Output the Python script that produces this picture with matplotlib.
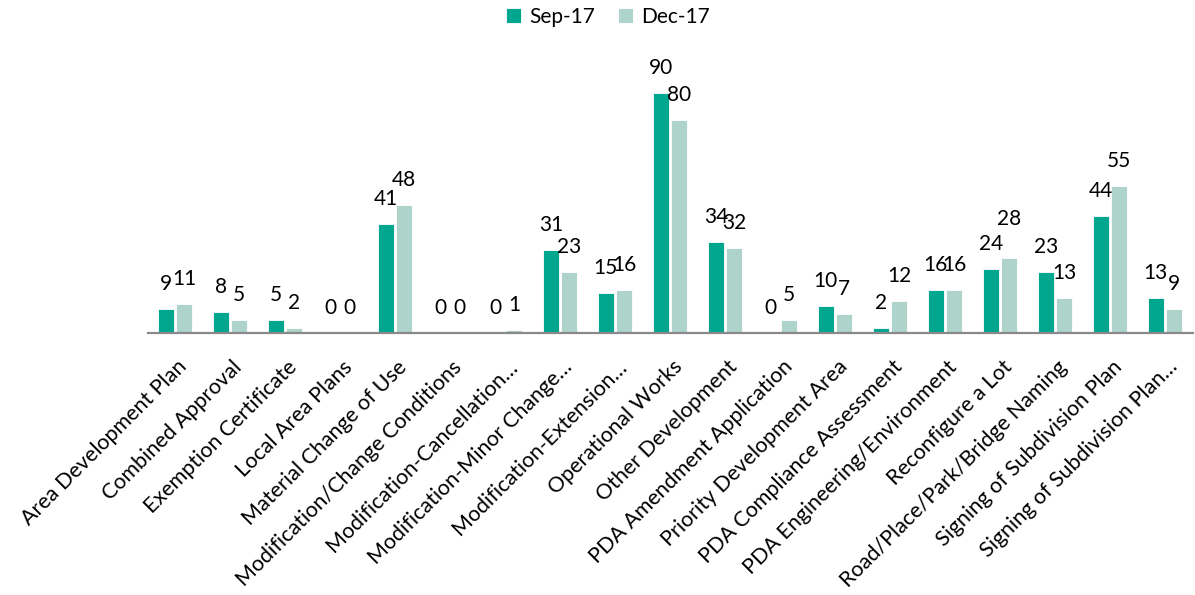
import matplotlib
matplotlib.use("Agg")
import matplotlib.pyplot as plt
import matplotlib.transforms as mtransforms
import numpy as np

categories = [
    "Area Development Plan",
    "Combined Approval",
    "Exemption Certificate",
    "Local Area Plans",
    "Material Change of Use",
    "Modification/Change Conditions",
    "Modification-Cancellation…",
    "Modification-Minor Change…",
    "Modification-Extension…",
    "Operational Works",
    "Other Development",
    "PDA Amendment Application",
    "Priority Development Area",
    "PDA Compliance Assessment",
    "PDA Engineering/Environment",
    "Reconfigure a Lot",
    "Road/Place/Park/Bridge Naming",
    "Signing of Subdivision Plan",
    "Signing of Subdivision Plan…",
]

series_names = ["Sep-17", "Dec-17"]
sep17 = [9, 8, 5, 0, 41, 0, 0, 31, 15, 90, 34, 0, 10, 2, 16, 24, 23, 44, 13]
dec17 = [11, 5, 2, 0, 48, 0, 1, 23, 16, 80, 32, 5, 7, 12, 16, 28, 13, 55, 9]

colors = ["#00A78E", "#AED3CA"]

# extra lift (points) for labels that sit higher than the rest
label_lift = {(1, 15): 10}

plt.rcParams["font.family"] = ["Lato", "DejaVu Sans"]

fig = plt.figure(figsize=(11.95, 5.95), dpi=100)
ax = fig.add_axes([147.5 / 1195, 1 - 333 / 595, 1045 / 1195, 266.7 / 595])

x = np.arange(len(categories))
bw = 0.28
offs = [-0.167, 0.167]
for s, (vals, name) in enumerate(zip([sep17, dec17], series_names)):
    bars = ax.bar(x + offs[s], vals, width=bw, color=colors[s],
                  edgecolor="white", linewidth=0.6, label=name, zorder=2)
    for i, (b, v) in enumerate(zip(bars, vals)):
        lift = 18 + label_lift.get((s, i), 0)
        ax.annotate(str(v), (b.get_x() + b.get_width() / 2, v),
                    xytext=(0, lift), textcoords="offset points",
                    ha="center", va="center", fontsize=15,
                    color="#000000", annotation_clip=False)

ax.set_xlim(-0.5, len(categories) - 0.5)
ax.set_ylim(0, 100)
ax.set_yticks([])
for side in ("left", "right", "top"):
    ax.spines[side].set_visible(False)
ax.spines["bottom"].set_color("#898989")
ax.spines["bottom"].set_linewidth(1.6)
ax.spines["bottom"].set_zorder(3)

ax.set_xticks(x)
ax.set_xticklabels(categories, rotation=45, ha="right", va="top",
                   rotation_mode="anchor", fontsize=15.5, color="#000000")
ax.tick_params(axis="x", length=0, pad=17)
shift = mtransforms.ScaledTranslation(2 / 100, 0, fig.dpi_scale_trans)
for lbl in ax.get_xticklabels():
    lbl.set_transform(lbl.get_transform() + shift)

fig.legend(loc="center", bbox_to_anchor=(608 / 1195, 1 - 17 / 595),
           ncol=2, frameon=False, fontsize=15, handlelength=0.7,
           handleheight=0.7, handletextpad=0.4, columnspacing=1.1)

fig.savefig("out.png", dpi=100)
